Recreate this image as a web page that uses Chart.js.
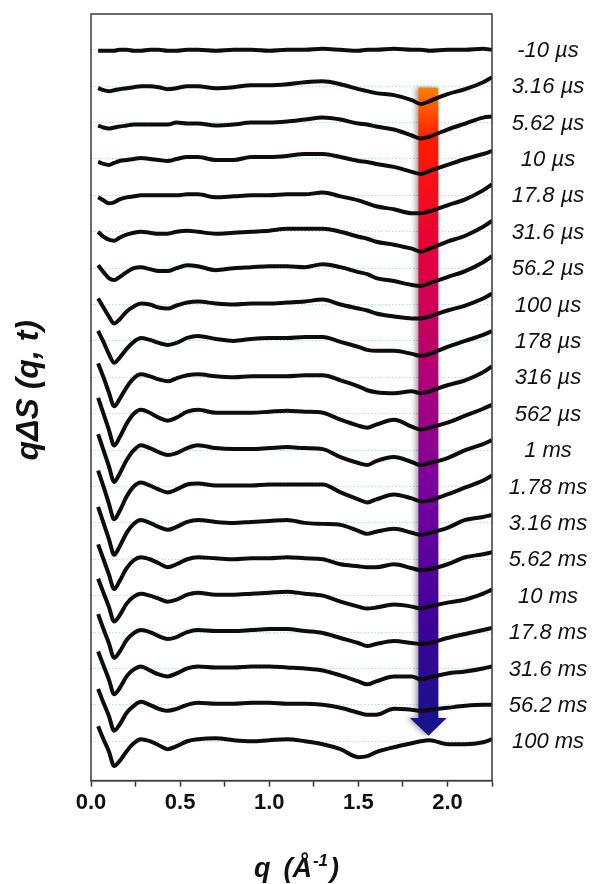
<!DOCTYPE html>
<html lang="en">
<head>
<meta charset="UTF-8">
<title>qΔS (q, t)</title>
<script src="https://cdn.jsdelivr.net/npm/chart.js"></script>
<style>
    html, body { margin: 0; padding: 0; background: #ffffff; }
    #wrap { width: 593px; height: 884px; }
</style>
</head>
<body>
<div id="wrap"><canvas id="chart" width="593" height="884"></canvas></div>
<script>
    // q grid (1/Å)
    const qValues = [0.04, 0.07, 0.10, 0.13, 0.16, 0.20, 0.24, 0.28, 0.33, 0.38, 0.43, 0.48, 0.54, 0.60, 0.70, 0.80, 0.90,
        1.00, 1.10, 1.20, 1.30, 1.40, 1.50, 1.55, 1.60, 1.70, 1.80, 1.85, 1.90, 2.00, 2.10, 2.20, 2.25];

    const timeLabels = ['-10 µs', '3.16 µs', '5.62 µs', '10 µs', '17.8 µs', '31.6 µs', '56.2 µs', '100 µs', '178 µs', '316 µs',
        '562 µs', '1 ms', '1.78 ms', '3.16 ms', '5.62 ms', '10 ms', '17.8 ms', '31.6 ms', '56.2 ms', '100 ms'];

    const xTicks = [0.0, 0.5, 1.0, 1.5, 2.0];

    // qΔS for each time delay (arb. units, before vertical offset)
    const dS_m10us  = [-1, -1, -1, -1, 0, 0, -1, -1, 0, 0, -1, -1, 0, 0, -1, 0, 0, -1, 0, 0, 1, 0, -1, 0, 0, 1, 0, 0, -1, 0, 0, 1, 0];
    const dS_3_16us = [-2, -4, -5, -4, -3, -2, -1, 0, 0, -1, -3, -2, 0, 0, -2, -1, 1, 1, 2, 4, 5, 2, -3, -5, -7, -9, -14, -18, -15, -8, -3, 4, 9];
    const dS_5_62us = [-3, -5, -6, -5, -4, -3, -2, -2, -2, -2, -2, 0, -1, -1, -3, -2, 0, 0, 1, 3, 5, 3, -1, -2, -4, -7, -13, -16, -14, -7, -1, 5, 6];
    const dS_10us   = [-3, -5, -6, -4, -2, -1, 0, 1, 0, -1, -2, 0, 2, 2, -1, -1, 2, 2, 3, 5, 5, 2, -2, -3, -5, -8, -13, -15, -12, -6, 0, 5, 8];
    const dS_17_8us = [-2, -5, -8, -7, -4, -2, -1, 0, 0, 0, 0, 0, 1, 1, -2, -1, 0, 0, 1, 1, 3, -1, -5, -8, -11, -14, -18, -18, -16, -10, -4, 5, 11];
    const dS_31_6us = [0, -5, -8, -9, -6, -3, -1, 0, -1, -2, -2, 0, 1, 0, -2, -1, 0, 1, 3, 3, 3, 0, -5, -7, -10, -13, -17, -20, -17, -10, -4, 5, 11];
    const dS_56_2us = [3, -4, -10, -12, -9, -4, 0, 1, -1, -3, -3, 0, 3, 2, -2, 0, 1, 2, 2, 1, 4, 1, -4, -6, -10, -13, -17, -18, -15, -9, -3, 6, 12];
    const dS_100us  = [6, -3, -12, -19, -15, -7, -2, 1, 0, -3, -4, -1, 2, 3, 1, 0, 1, 1, 2, 3, 5, 0, -4, -6, -9, -12, -14, -14, -12, -6, -1, 6, 11];
    const dS_178us  = [10, -1, -13, -22, -17, -8, -1, 3, 1, -2, -4, -2, 3, 5, 2, 0, 2, 3, 3, 4, 4, -1, -6, -9, -10, -10, -13, -15, -13, -6, 0, 6, 10];
    const dS_316us  = [14, 0, -15, -29, -22, -10, -1, 3, 1, -2, -4, -1, 2, 3, 1, 0, 1, 1, 1, 2, 2, -3, -9, -13, -15, -16, -14, -16, -14, -8, -3, 5, 11];
    const dS_562us  = [16, 0, -16, -32, -24, -10, 0, 4, 1, -4, -7, -4, 2, 4, 1, 1, 1, 2, 3, 2, 1, -6, -12, -14, -11, -6, -13, -16, -14, -9, -2, 5, 9];
    const dS_1ms    = [16, 0, -16, -32, -24, -10, 0, 5, 2, -2, -5, -3, 2, 5, 2, 1, 1, 2, 3, 2, 1, -7, -13, -15, -11, -7, -12, -15, -13, -8, 0, 6, 10];
    const dS_1_78ms = [16, 0, -17, -33, -25, -10, 0, 4, 1, -3, -6, -3, 2, 3, 1, 1, 1, 2, 2, 2, 2, -6, -13, -16, -13, -8, -12, -15, -14, -8, -1, 6, 11];
    const dS_3_16ms = [16, 0, -16, -32, -24, -10, -1, 3, 0, -4, -7, -4, 1, 3, 1, 0, 1, 2, 3, 0, -1, -2, -8, -11, -9, -6, -10, -12, -10, -5, 3, 6, 8];
    const dS_5_62ms = [15, 0, -15, -30, -22, -9, -1, 2, 0, -4, -8, -5, 0, 2, 1, 0, 1, 1, 2, 1, 0, -5, -7, -8, -8, -5, -9, -11, -10, -5, 2, 5, 7];
    const dS_10ms   = [17, 3, -11, -26, -20, -8, -1, 2, 0, -3, -6, -4, 1, 3, 1, 1, 2, 3, 4, 2, 0, -6, -11, -13, -12, -9, -11, -13, -11, -7, -4, 2, 6];
    const dS_17_8ms = [18, 3, -11, -26, -20, -8, -1, 2, 0, -4, -7, -5, 0, 2, 1, 1, 2, 3, 3, 1, -1, -6, -11, -14, -12, -9, -11, -12, -11, -6, -2, 2, 4];
    const dS_31_6ms = [17, 3, -11, -26, -20, -8, -1, 2, -2, -6, -8, -5, 0, 2, 1, 1, 2, 2, 1, 0, -2, -7, -13, -16, -13, -8, -8, -11, -9, -5, -3, 0, 2];
    const dS_56_2ms = [16, 2, -11, -26, -20, -8, -1, 3, 0, -4, -6, -4, 0, 2, 1, 1, 2, 2, 1, 1, 0, -3, -8, -10, -10, -4, -5, -6, -5, -3, -1, 0, 0];
    const dS_100ms  = [15, 2, -10, -25, -20, -10, -2, 2, 0, -4, -8, -5, 0, 2, 3, 1, 0, 1, 2, 0, -3, -8, -16, -15, -11, -6, -2, 0, 1, -3, -3, -1, 2];

    const series = [dS_m10us, dS_3_16us, dS_5_62us, dS_10us, dS_17_8us, dS_31_6us, dS_56_2us, dS_100us, dS_178us, dS_316us,
        dS_562us, dS_1ms, dS_1_78ms, dS_3_16ms, dS_5_62ms, dS_10ms, dS_17_8ms, dS_31_6ms, dS_56_2ms, dS_100ms];

    const STEP = 36.6;   // vertical offset between curves
    const offsets = series.map((s, i) => -i * STEP);

    const FONT = '"Liberation Sans", Arial, sans-serif';
    Chart.defaults.font.family = FONT;
    Chart.defaults.color = '#111';

    const datasets = series.map((s, i) => ({
        label: timeLabels[i],
        data: qValues.map((q, j) => ({ x: q, y: s[j] + offsets[i] })),
        borderColor: '#0d0d0d',
        borderWidth: 4,
        pointRadius: 0,
        fill: false,
        cubicInterpolationMode: 'monotone'
    }));

    // time-direction arrow (orange -> blue), behind the curves
    const arrowPlugin = {
        id: 'timeArrow',
        beforeDatasetsDraw(chart) {
            const { ctx, scales: { x, y } } = chart;
            const cx = x.getPixelForValue(1.893);
            const top = y.getPixelForValue(-38);
            const headTop = y.getPixelForValue(-672);
            const tip = y.getPixelForValue(-690);
            const g = ctx.createLinearGradient(0, top, 0, tip);
            g.addColorStop(0.00, '#ff8000');
            g.addColorStop(0.08, '#ff1a00');
            g.addColorStop(0.25, '#e8003a');
            g.addColorStop(0.45, '#b0007a');
            g.addColorStop(0.62, '#7a00a0');
            g.addColorStop(0.80, '#44009a');
            g.addColorStop(1.00, '#14148c');
            ctx.save();
            ctx.shadowColor = 'rgba(0,0,0,0.35)';
            ctx.shadowBlur = 5;
            ctx.shadowOffsetX = -3;
            ctx.fillStyle = g;
            ctx.beginPath();
            ctx.moveTo(cx - 10, top);
            ctx.lineTo(cx + 10, top);
            ctx.lineTo(cx + 10, headTop);
            ctx.lineTo(cx + 18.5, headTop);
            ctx.lineTo(cx, tip);
            ctx.lineTo(cx - 18.5, headTop);
            ctx.lineTo(cx - 10, headTop);
            ctx.closePath();
            ctx.fill();
            ctx.restore();
        }
    };

    // frame, time labels and axis titles
    const decorPlugin = {
        id: 'decor',
        afterDraw(chart) {
            const { ctx, chartArea: a, scales: { y } } = chart;
            ctx.save();
            ctx.strokeStyle = '#3a3a3a';
            ctx.lineWidth = 1.5;
            ctx.strokeRect(a.left, a.top, a.right - a.left, a.bottom - a.top);

            ctx.fillStyle = '#111';
            ctx.font = 'italic 22px ' + FONT;
            ctx.textAlign = 'center';
            ctx.textBaseline = 'middle';
            timeLabels.forEach((t, i) => ctx.fillText(t, a.right + 56, y.getPixelForValue(offsets[i]) + 1));

            // y title
            ctx.save();
            ctx.translate(38, (a.top + a.bottom) / 2 - 7);
            ctx.rotate(-Math.PI / 2);
            ctx.font = 'bold italic 32px ' + FONT;
            ctx.textBaseline = 'alphabetic';
            ctx.fillText('qΔS (q, t)', 0, 0);
            ctx.restore();

            // x title with superscript
            const big = 'bold italic 27px ' + FONT, small = 'bold italic 17px ' + FONT;
            ctx.textAlign = 'left';
            ctx.textBaseline = 'alphabetic';
            ctx.font = big;
            const wq = ctx.measureText('q').width, wa = ctx.measureText('(Å').width, wc = ctx.measureText(')').width;
            ctx.font = small;
            const ws = ctx.measureText('-1').width;
            const gap = 13;
            let xx = (a.left + a.right) / 2 + 5 - (wq + gap + wa + ws + 3 + wc) / 2;
            const base = 877;
            ctx.font = big;
            ctx.fillText('q', xx, base); xx += wq + gap;
            ctx.fillText('(Å', xx, base); xx += wa + 1;
            ctx.font = small;
            ctx.fillText('-1', xx, base - 11); xx += ws + 2;
            ctx.font = big;
            ctx.fillText(')', xx, base);
            ctx.restore();
        }
    };

    const ctx = document.getElementById('chart').getContext('2d');
    new Chart(ctx, {
        type: 'line',
        data: { datasets },
        plugins: [arrowPlugin, decorPlugin],
        options: {
            responsive: false,
            animation: false,
            layout: { padding: { left: 91, right: 101, top: 14, bottom: 65 } },
            plugins: { legend: { display: false }, tooltip: { enabled: false } },
            scales: {
                x: {
                    type: 'linear',
                    min: 0,
                    max: 2.25,
                    ticks: {
                        stepSize: 0.25,
                        autoSkip: false,
                        maxRotation: 0,
                        padding: 3,
                        color: '#111',
                        font: { size: 22, weight: 'bold' },
                        callback: v => xTicks.some(t => Math.abs(t - v) < 1e-6) ? v.toFixed(1) : ''
                    },
                    grid: { display: true, drawOnChartArea: false, drawTicks: true, tickLength: 6, tickColor: '#333', tickWidth: 1.5 },
                    border: { display: true, color: '#3a3a3a', width: 1.5 }
                },
                y: {
                    type: 'linear',
                    min: -735,
                    max: 36,
                    afterBuildTicks: scale => { scale.ticks = offsets.map(v => ({ value: v })); },
                    ticks: { display: false },
                    grid: { color: 'rgba(130, 200, 205, 0.6)', lineWidth: 1, drawTicks: false, borderDash: [1.5, 2] },
                    border: { display: false, dash: [1.5, 2] }
                }
            }
        }
    });
</script>
</body>
</html>
